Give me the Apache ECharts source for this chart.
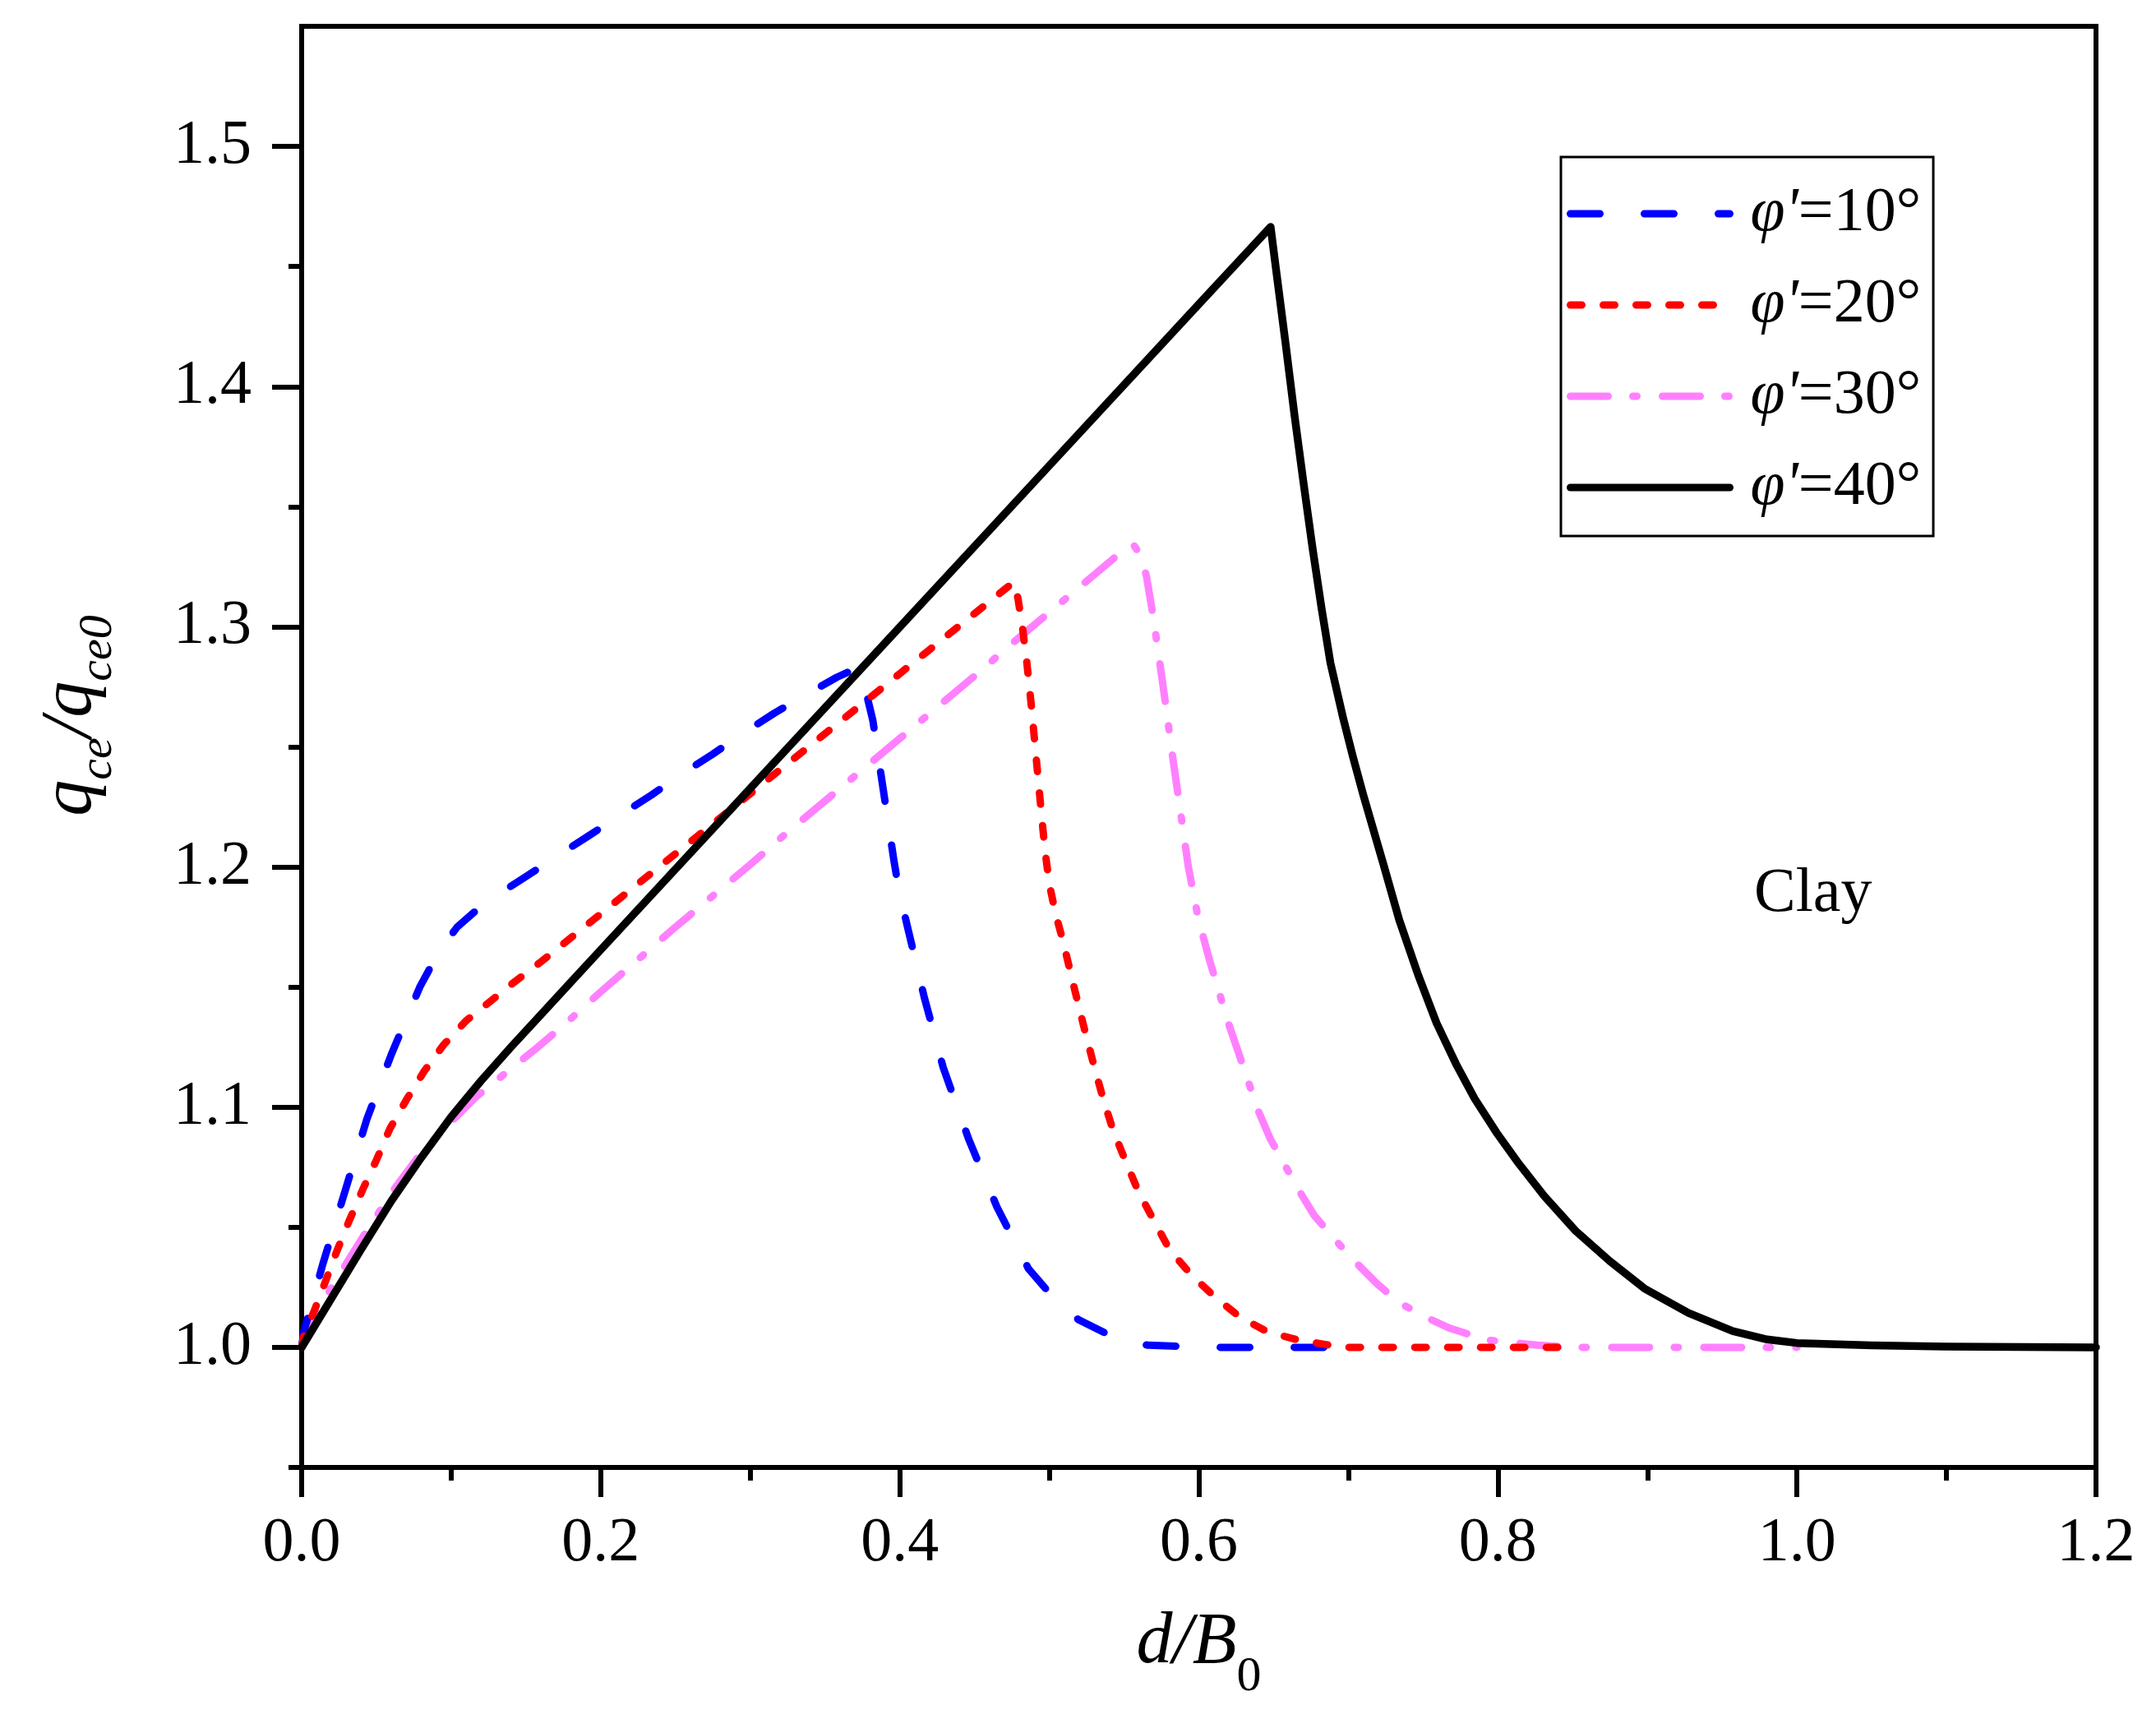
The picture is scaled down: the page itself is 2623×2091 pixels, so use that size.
<!DOCTYPE html>
<html>
<head>
<meta charset="utf-8">
<script src="https://cdn.jsdelivr.net/npm/echarts@6/dist/echarts.min.js"></script>
<style>
  html, body { margin: 0; padding: 0; background: #fff; }
  #chart { width: 2623px; height: 2091px; }
</style>
</head>
<body>
<div id="chart"></div>
<script>
// series names (legend order)
const names = ["φ'=10°", "φ'=20°", "φ'=30°", "φ'=40°"];

// y axis tick values
const yMajorTicks = [1.0, 1.1, 1.2, 1.3, 1.4, 1.5];
const yMinorTicks = [0.95, 1.05, 1.15, 1.25, 1.35, 1.45];

// [d/B0, qce/qce0]
const phi10 = [
  [0, 1.0], [0.0015, 1.0066], [0.0143, 1.035], [0.029, 1.065], [0.0436, 1.095],
  [0.060, 1.122], [0.079, 1.150], [0.092, 1.165], [0.104, 1.175], [0.115, 1.181],
  [0.13, 1.188], [0.15, 1.196], [0.172, 1.205], [0.192, 1.213], [0.214, 1.222],
  [0.234, 1.230], [0.255, 1.239], [0.275, 1.247], [0.296, 1.256], [0.316, 1.264],
  [0.338, 1.272], [0.358, 1.279], [0.372, 1.283], [0.377, 1.274], [0.382, 1.261],
  [0.389, 1.232], [0.396, 1.203], [0.3996, 1.1897], [0.405, 1.1755], [0.4164, 1.1457],
  [0.429, 1.1166], [0.446, 1.0868], [0.465, 1.0584], [0.486, 1.0328], [0.5027, 1.0207],
  [0.5195, 1.0115], [0.5447, 1.0037], [0.5658, 1.0009], [0.608, 1.0], [0.70, 1.0]
];
const phi20 = [
  [0, 1.0], [0.0015, 1.005], [0.0088, 1.0158], [0.016, 1.0276], [0.0235, 1.040],
  [0.0317, 1.0526], [0.0409, 1.0658], [0.05, 1.078], [0.059, 1.091], [0.070, 1.103],
  [0.082, 1.115], [0.095, 1.126], [0.11, 1.136], [0.125, 1.1435], [0.14, 1.151],
  [0.16, 1.1605], [0.18, 1.1705], [0.2, 1.1805], [0.22, 1.1905], [0.24, 1.2005],
  [0.26, 1.2105], [0.28, 1.2205], [0.3, 1.2305], [0.32, 1.2405], [0.34, 1.2505],
  [0.36, 1.2605], [0.38, 1.2705], [0.4, 1.2805], [0.42, 1.2905], [0.44, 1.3005],
  [0.46, 1.3105], [0.47, 1.3155], [0.476, 1.3185], [0.479, 1.312], [0.482, 1.300],
  [0.485, 1.285], [0.488, 1.267], [0.491, 1.247], [0.494, 1.227], [0.497, 1.2075],
  [0.5, 1.193], [0.504, 1.181], [0.509, 1.1695], [0.5174, 1.1478], [0.5237, 1.132],
  [0.53, 1.117], [0.536, 1.1035], [0.5426, 1.0905], [0.551, 1.0775], [0.5595, 1.065],
  [0.570, 1.0527], [0.5805, 1.0406], [0.5952, 1.030], [0.610, 1.0214], [0.6268, 1.0129],
  [0.6457, 1.0065], [0.6667, 1.0030], [0.6878, 1.0009], [0.70, 1.0], [0.85, 1.0]
];
const phi30 = [
  [0, 1.0], [0.0015, 1.004], [0.02, 1.025], [0.042, 1.047], [0.062, 1.066],
  [0.08, 1.081], [0.0986, 1.093], [0.117, 1.1045], [0.135, 1.1135], [0.155, 1.1235],
  [0.175, 1.134], [0.2, 1.148], [0.225, 1.1615], [0.25, 1.175], [0.275, 1.188],
  [0.3, 1.201], [0.325, 1.2145], [0.35, 1.2275], [0.375, 1.2405], [0.4, 1.2535],
  [0.425, 1.2665], [0.45, 1.2795], [0.475, 1.293], [0.5, 1.306], [0.525, 1.319],
  [0.545, 1.3295], [0.5564, 1.334], [0.561, 1.330], [0.565, 1.321], [0.569, 1.306],
  [0.573, 1.289], [0.5775, 1.269], [0.582, 1.248], [0.5875, 1.224], [0.593, 1.2],
  [0.5995, 1.179], [0.607, 1.1615], [0.614, 1.147], [0.6184, 1.1375], [0.6268, 1.1222],
  [0.6394, 1.099], [0.6478, 1.0868], [0.6668, 1.0655], [0.6773, 1.0548], [0.692, 1.0442],
  [0.7046, 1.0356], [0.7193, 1.0264], [0.734, 1.0186], [0.753, 1.0122], [0.7677, 1.008],
  [0.793, 1.003], [0.8266, 1.0009], [0.85, 1.0], [1.0, 1.0]
];
const phi40 = [
  [0, 1.0], [0.02, 1.0205], [0.04, 1.041], [0.06, 1.061], [0.08, 1.079],
  [0.10, 1.096], [0.12, 1.111], [0.14, 1.125], [0.16, 1.1385], [0.18, 1.152],
  [0.2, 1.1655], [0.3, 1.2327], [0.4, 1.2999], [0.5, 1.3671], [0.6, 1.4343],
  [0.648, 1.4665], [0.652, 1.447], [0.658, 1.418], [0.664, 1.388], [0.670, 1.360],
  [0.676, 1.333], [0.682, 1.308], [0.688, 1.285], [0.6965, 1.262], [0.703, 1.246],
  [0.710, 1.230], [0.7235, 1.201], [0.734, 1.178], [0.7467, 1.155], [0.759, 1.135],
  [0.772, 1.118], [0.7845, 1.1035], [0.799, 1.0895], [0.814, 1.0765], [0.831, 1.063],
  [0.852, 1.0485], [0.875, 1.0358], [0.898, 1.0245], [0.9275, 1.0143], [0.957, 1.0068],
  [0.98, 1.0033], [1.0, 1.0018], [1.05, 1.0008], [1.1, 1.0003], [1.2, 1.0]
];

const serif = 'Liberation Serif';
const chart = echarts.init(document.getElementById('chart'));

function curve(name, data, color, dash, width, z) {
  return {
    name: name,
    type: 'line',
    data: data,
    symbol: 'none',
    z: z,
    silent: true,
    lineStyle: { color: color, width: width, type: dash, cap: 'round', join: 'round' }
  };
}

chart.setOption({
  animation: false,
  backgroundColor: '#fff',
  grid: {
    left: 367, right: 73, top: 32, bottom: 306,
    show: true, borderColor: '#000', borderWidth: 6
  },
  legend: {
    data: names,
    orient: 'vertical',
    left: 1899,
    top: 191,
    padding: [29, 15, 19, 7],
    borderColor: '#000',
    borderWidth: 3,
    itemWidth: 194,
    itemHeight: 30,
    itemGap: 31,
    selectedMode: false,
    itemStyle: { opacity: 0 },
    lineStyle: { width: 9, cap: 'round' },
    formatter: n => '{i|' + n.slice(0, 2) + '}{n|' + n.slice(2) + '}',
    textStyle: {
      fontFamily: serif, fontSize: 76, color: '#000', lineHeight: 80,
      padding: [0, 0, 0, 20],
      rich: {
        i: { fontFamily: serif, fontSize: 76, fontStyle: 'italic', lineHeight: 80 },
        n: { fontFamily: serif, fontSize: 76, lineHeight: 80 }
      }
    }
  },
  xAxis: {
    type: 'value',
    min: 0,
    max: 1.2,
    interval: 0.2,
    name: '{i|d/B}{s|0}',
    nameLocation: 'middle',
    nameGap: 164,
    nameTextStyle: {
      rich: {
        i: { fontFamily: serif, fontSize: 88, fontStyle: 'italic', lineHeight: 100 },
        s: { fontFamily: serif, fontSize: 60, lineHeight: 60, padding: [82, 0, 0, 0] }
      }
    },
    axisLine: { lineStyle: { color: '#000', width: 6 } },
    axisTick: { length: 36, lineStyle: { color: '#000', width: 6 } },
    minorTick: { show: true, splitNumber: 2, length: 16, lineStyle: { color: '#000', width: 6 } },
    axisLabel: {
      margin: 55, color: '#000', fontFamily: serif, fontSize: 76,
      formatter: v => v.toFixed(1)
    },
    splitLine: { show: false }
  },
  yAxis: [
    {
      type: 'value',
      min: 0.95,
      max: 1.55,
      position: 'left',
      name: '{i|q}{s|ce}{i|/q}{s|ce0}',
      nameLocation: 'middle',
      nameRotate: 90,
      nameGap: 230,
      nameTextStyle: {
        padding: [0, 0, 0, 76],
        rich: {
          i: { fontFamily: serif, fontSize: 88, fontStyle: 'italic', lineHeight: 100 },
          s: { fontFamily: serif, fontSize: 58, fontStyle: 'italic', lineHeight: 60, padding: [65, 0, 0, 0] }
        }
      },
      axisLine: { show: true, lineStyle: { color: '#000', width: 6 } },
      axisTick: { length: 36, customValues: yMajorTicks, lineStyle: { color: '#000', width: 6 } },
      axisLabel: {
        customValues: yMajorTicks,
        margin: 61, color: '#000', fontFamily: serif, fontSize: 76,
        formatter: v => v.toFixed(1)
      },
      splitLine: { show: false }
    },
    {
      type: 'value',
      min: 0.95,
      max: 1.55,
      position: 'left',
      axisLine: { show: false },
      axisTick: { length: 16, customValues: yMinorTicks, lineStyle: { color: '#000', width: 6 } },
      axisLabel: { show: false },
      splitLine: { show: false }
    }
  ],
  graphic: [{
    type: 'text',
    left: 2134,
    top: 1050,
    style: { text: 'Clay', fontFamily: serif, fontSize: 76, fill: '#000' }
  }],
  series: [
    curve(names[0], phi10, '#0000ff', [36, 54], 9, 3),
    curve(names[1], phi20, '#ff0000', [14, 26], 9, 3),
    curve(names[2], phi30, '#ff80ff', [46, 30, 5, 31], 9, 2),
    curve(names[3], phi40, '#000000', 'solid', 9.5, 4)
  ]
});
</script>
</body>
</html>
